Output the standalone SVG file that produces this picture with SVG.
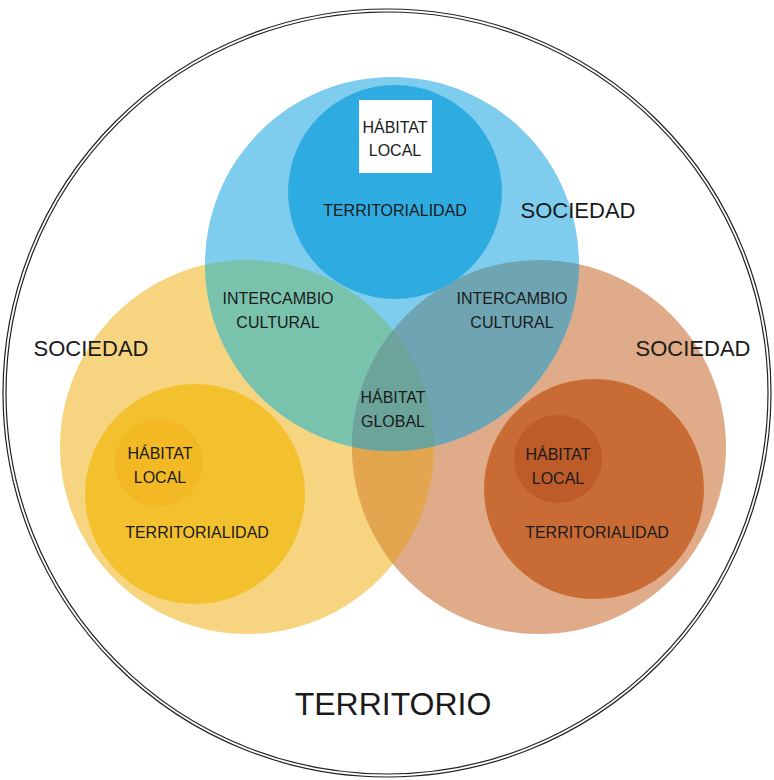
<svg xmlns="http://www.w3.org/2000/svg" width="774" height="780" viewBox="0 0 774 780">
<style>
  text { font-family: "Liberation Sans", Arial, sans-serif; fill: #1a1a1a; text-anchor: middle; }
  .s { font-size: 16px; }
  .m { font-size: 22px; }
  .l { font-size: 32px; }
  .ring { fill: none; stroke: #222; stroke-width: 1.2; }
</style>
<defs>
  <clipPath id="cY"><circle cx="247" cy="447" r="187"/></clipPath>
  <clipPath id="cO"><circle cx="539" cy="447" r="187"/></clipPath>
</defs>
<rect width="774" height="780" fill="#fff"/>
<g id="territorio">
  <circle class="ring" cx="387" cy="393" r="384"/>
  <circle class="ring" cx="387" cy="393" r="381"/>
  <text class="l" x="393" y="715">TERRITORIO</text>
</g>
<g id="sociedad-amarilla">
  <circle cx="247" cy="447" r="187" fill="#f7d580"/>
</g>
<g id="sociedad-naranja">
  <circle cx="539" cy="447" r="187" fill="#e0ab88"/>
</g>
<g id="sociedad-azul">
  <circle cx="392" cy="264" r="187" fill="#7fcdee"/>
</g>
<g id="intersecciones">
  <circle cx="539" cy="447" r="187" fill="#e3a54e" clip-path="url(#cY)"/>
  <circle cx="392" cy="264" r="187" fill="#79c3ad" clip-path="url(#cY)"/>
  <circle cx="392" cy="264" r="187" fill="#6fa4b2" clip-path="url(#cO)"/>
  <g clip-path="url(#cO)">
    <circle cx="392" cy="264" r="187" fill="#6ca49c" clip-path="url(#cY)"/>
  </g>
</g>
<g id="territorialidad-azul">
  <circle cx="395" cy="192" r="107" fill="#2eace2"/>
  <text class="s" x="395" y="216">TERRITORIALIDAD</text>
</g>
<g id="habitat-local-azul">
  <rect x="359" y="100" width="73" height="73" fill="#fff"/>
  <text class="s" x="395" y="133">HÁBITAT</text>
  <text class="s" x="395" y="156">LOCAL</text>
</g>
<g id="territorialidad-amarilla">
  <circle cx="195" cy="494" r="110" fill="#f4c12e"/>
  <text class="s" x="197" y="538">TERRITORIALIDAD</text>
</g>
<g id="habitat-local-amarillo">
  <circle cx="159" cy="463" r="44" fill="#f2b924"/>
  <text class="s" x="160" y="459">HÁBITAT</text>
  <text class="s" x="160" y="483">LOCAL</text>
</g>
<g id="territorialidad-naranja">
  <circle cx="594" cy="489" r="110" fill="#c96b34"/>
  <text class="s" x="597" y="538">TERRITORIALIDAD</text>
</g>
<g id="habitat-local-naranja">
  <circle cx="558" cy="459" r="44" fill="#bd5b29"/>
  <text class="s" x="558" y="460">HÁBITAT</text>
  <text class="s" x="558" y="484">LOCAL</text>
</g>
<g id="etiquetas">
  <text class="m" x="578" y="218">SOCIEDAD</text>
  <text class="m" x="91" y="356">SOCIEDAD</text>
  <text class="m" x="693" y="356">SOCIEDAD</text>
  <text class="s" x="278" y="304">INTERCAMBIO</text>
  <text class="s" x="278" y="328">CULTURAL</text>
  <text class="s" x="512" y="304">INTERCAMBIO</text>
  <text class="s" x="512" y="328">CULTURAL</text>
  <text class="s" x="393" y="403">HÁBITAT</text>
  <text class="s" x="393" y="427">GLOBAL</text>
</g>
</svg>
